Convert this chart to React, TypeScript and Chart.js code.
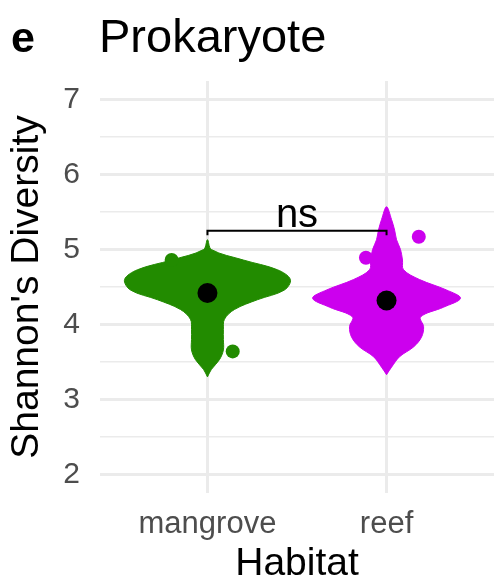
import React, { useEffect, useRef } from "react";
import { Chart, registerables } from "chart.js";

Chart.register(...registerables);

const FONT = "'Liberation Sans', Arial, Helvetica, sans-serif";

const panelTag = "e";
const panelTitle = "Prokaryote";
const habitats = ["mangrove", "reef"];
const habitatColors = ["#228B00", "#CC00EE"];
const yMajorTicks = [2, 3, 4, 5, 6, 7];

// Kernel density outlines: diversity level and half-width (in category units)
const mangroveLevels = [3.3, 3.4, 3.53, 3.66, 3.8, 3.93, 4.07, 4.2, 4.33, 4.46, 4.6, 4.73, 4.86, 5.0, 5.13];
const mangroveHalfWidths = [0, 0.022, 0.067, 0.089, 0.089, 0.089, 0.095, 0.151, 0.279, 0.43, 0.463, 0.391, 0.201, 0.022, 0];

const reefLevels = [3.33, 3.43, 3.57, 3.7, 3.83, 3.97, 4.1, 4.23, 4.35, 4.46, 4.6, 4.73, 4.86, 5.0, 5.13, 5.26, 5.4, 5.57];
const reefHalfWidths = [0, 0.028, 0.073, 0.151, 0.195, 0.207, 0.19, 0.318, 0.413, 0.335, 0.184, 0.095, 0.089, 0.078, 0.056, 0.045, 0.028, 0];

// Individual samples that show outside the density shapes
const mangrovePointX = [0.8, 1.141];
const mangrovePointY = [4.86, 3.64];
const reefPointX = [1.885, 2.18];
const reefPointY = [4.89, 5.17];

// Group means
const meanDiversity = [4.42, 4.32];

// Wilcoxon comparison bracket
const bracketY = 5.25;
const bracketTickY = 5.19;
const bracketLabel = "ns";

function violinOutline(center: number, levels: number[], halfWidths: number[]) {
  const right = levels.map((v, i) => ({ x: center + halfWidths[i], y: v }));
  const left = levels
    .map((v, i) => ({ x: center - halfWidths[i], y: v }))
    .reverse()
    .slice(1);
  return [...right, ...left];
}

const titlePlugin = {
  id: "panelTitle",
  afterDraw(chart: any) {
    const ctx = chart.ctx;
    ctx.save();
    ctx.fillStyle = "#000";
    ctx.textBaseline = "alphabetic";
    ctx.textAlign = "left";
    ctx.font = `bold 43px ${FONT}`;
    ctx.fillText(panelTag, 11, 52);
    ctx.font = `47px ${FONT}`;
    ctx.fillText(panelTitle, 99, 52);
    ctx.restore();
  },
};

const bracketLabelPlugin = {
  id: "bracketLabel",
  afterDatasetsDraw(chart: any) {
    const { ctx, scales } = chart;
    const x = scales.x.getPixelForValue(1.5);
    const y = scales.y.getPixelForValue(bracketY) - 4;
    ctx.save();
    ctx.fillStyle = "#000";
    ctx.font = `40px ${FONT}`;
    ctx.textAlign = "center";
    ctx.textBaseline = "alphabetic";
    ctx.fillText(bracketLabel, x, y);
    ctx.restore();
  },
};

export default function App() {
  const canvasRef = useRef<HTMLCanvasElement | null>(null);

  useEffect(() => {
    const canvas = canvasRef.current;
    if (!canvas) return;

    const violins = [
      violinOutline(1, mangroveLevels, mangroveHalfWidths),
      violinOutline(2, reefLevels, reefHalfWidths),
    ];

    const chart = new Chart(canvas, {
      type: "scatter",
      data: {
        datasets: [
          {
            label: "mean",
            data: meanDiversity.map((v, i) => ({ x: i + 1, y: v })),
            pointRadius: 10,
            pointBackgroundColor: "#000",
            pointBorderWidth: 0,
            order: 0,
          } as any,
          {
            label: "mangrove samples",
            data: mangrovePointX.map((x, i) => ({ x, y: mangrovePointY[i] })),
            pointRadius: 7,
            pointBackgroundColor: habitatColors[0],
            pointBorderWidth: 0,
            order: 1,
          },
          {
            label: "reef samples",
            data: reefPointX.map((x, i) => ({ x, y: reefPointY[i] })),
            pointRadius: 7,
            pointBackgroundColor: habitatColors[1],
            pointBorderWidth: 0,
            order: 1,
          },
          {
            label: "bracket",
            data: [
              { x: 1, y: bracketTickY },
              { x: 1, y: bracketY },
              { x: 2, y: bracketY },
              { x: 2, y: bracketTickY },
            ],
            showLine: true,
            borderColor: "#000",
            borderWidth: 2,
            pointRadius: 0,
            tension: 0,
            fill: false,
            order: 2,
          },
          ...violins.map((pts, i) => ({
            label: habitats[i],
            data: pts,
            showLine: true,
            fill: "shape",
            backgroundColor: habitatColors[i],
            borderColor: habitatColors[i],
            borderWidth: 1,
            pointRadius: 0,
            tension: 0.35,
            order: 3,
          })),
        ] as any,
      },
      options: {
        animation: false,
        responsive: false,
        devicePixelRatio: 1,
        events: [],
        layout: { autoPadding: false, padding: { top: 81, right: 0, left: 0, bottom: 0 } },
        plugins: {
          legend: { display: false },
          tooltip: { enabled: false },
        },
        scales: {
          x: {
            type: "linear",
            min: 0.4,
            max: 2.6,
            afterBuildTicks: (s: any) => {
              s.ticks = habitats.map((_, i) => ({ value: i + 1 }));
            },
            afterFit: (s: any) => {
              s.height = 92;
              s.paddingLeft = 0;
              s.paddingRight = 0;
            },
            border: { display: false },
            grid: { color: "#EBEBEB", lineWidth: 3, drawTicks: false },
            ticks: {
              autoSkip: false,
              maxRotation: 0,
              padding: 13,
              color: "#4D4D4D",
              font: { family: FONT, size: 31 },
              callback: (v: any) => habitats[Number(v) - 1] ?? "",
            },
            title: {
              display: true,
              text: "Habitat",
              color: "#000",
              font: { family: FONT, size: 39, lineHeight: 1 },
              padding: { top: 0, bottom: 1 },
            },
          },
          y: {
            type: "linear",
            min: 1.75,
            max: 7.25,
            afterBuildTicks: (s: any) => {
              const t: { value: number }[] = [];
              yMajorTicks.forEach((v, i) => {
                t.push({ value: v });
                if (i < yMajorTicks.length - 1) t.push({ value: v + 0.5 });
              });
              s.ticks = t;
            },
            afterFit: (s: any) => {
              s.width = 100;
              s.paddingTop = 0;
              s.paddingBottom = 0;
            },
            border: { display: false },
            grid: {
              color: "#EBEBEB",
              lineWidth: (ctx: any) => (Number.isInteger(ctx.tick?.value) ? 3 : 1.5),
              drawTicks: false,
            },
            ticks: {
              autoSkip: false,
              padding: 20,
              color: "#4D4D4D",
              font: { family: FONT, size: 30 },
              callback: (v: any) => (Number.isInteger(Number(v)) ? String(v) : ""),
            },
            title: {
              display: true,
              text: "Shannon's Diversity",
              color: "#000",
              font: { family: FONT, size: 39, lineHeight: 1 },
              padding: { top: 8, bottom: 0 },
            },
          },
        },
      },
      plugins: [titlePlugin, bracketLabelPlugin],
    });

    return () => chart.destroy();
  }, []);

  return (
    <div style={{ position: "absolute", left: 0, top: 0, width: 494, height: 585, background: "#fff" }}>
      <canvas ref={canvasRef} width={494} height={585} style={{ display: "block" }} />
    </div>
  );
}
